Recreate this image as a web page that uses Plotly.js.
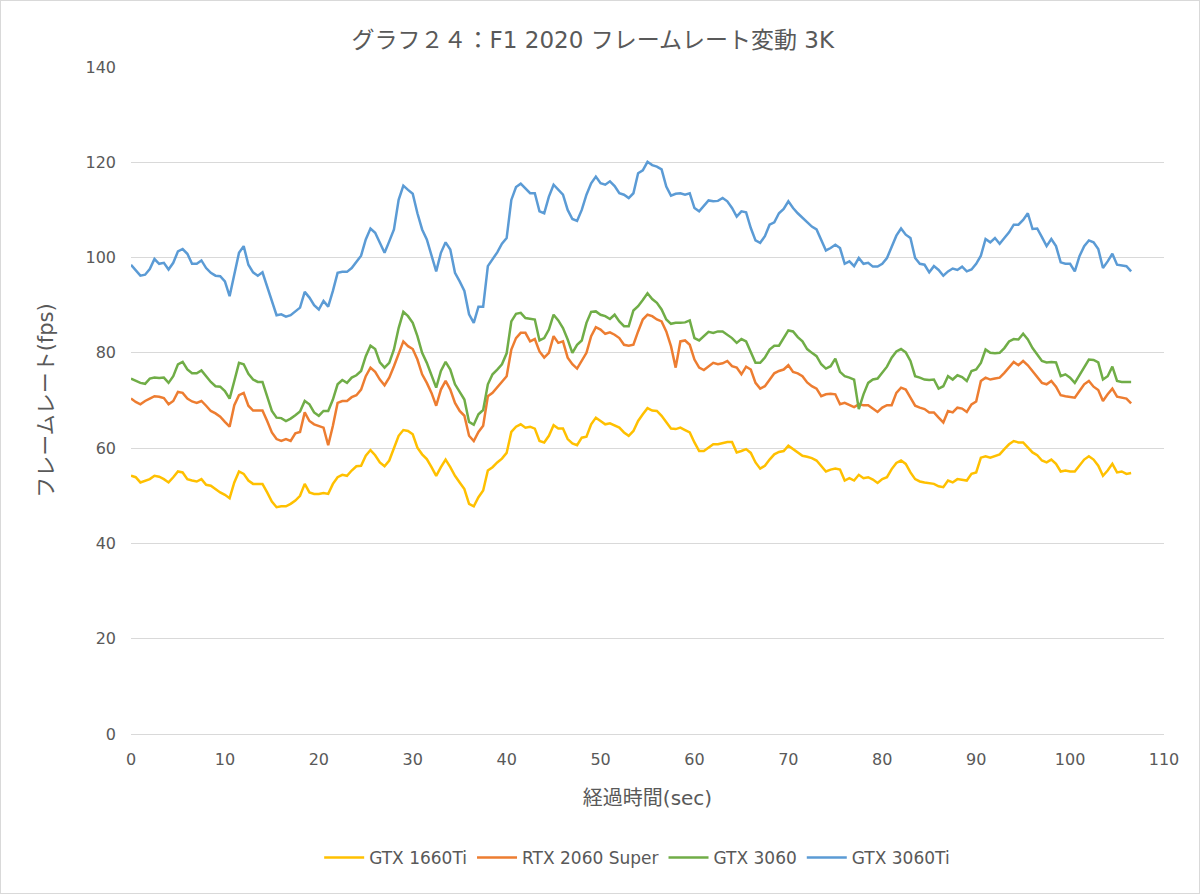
<!DOCTYPE html>
<html>
<head>
<meta charset="utf-8">
<script src="https://cdn.plot.ly/plotly-3.0.1.min.js"></script>
<style>
    body { margin: 0; background: #ffffff; }
    #chart { width: 1200px; height: 894px; }
    #frame { position: absolute; left: 0; top: 0; width: 1198px; height: 892px; border: 1px solid #d9d9d9; pointer-events: none; }
</style>
</head>
<body>
<div id="chart"></div>
<div id="frame"></div>
<script>
// frame rate samples, one every 0.5 sec (0 .. 106.5)
var SAMPLE_STEP = 0.5;

var gtx1660ti = [
    54.2, 53.9, 52.8, 53.2, 53.5, 54.2, 54, 53.5, 52.8, 53.9,
    55.1, 54.9, 53.5, 53.2, 53, 53.5, 52.3, 52.1, 51.4, 50.7,
    50.2, 49.5, 52.8, 55.1, 54.6, 53.2, 52.5, 52.5, 52.5, 50.7,
    48.8, 47.6, 47.8, 47.8, 48.3, 49, 50, 52.5, 50.7, 50.4,
    50.4, 50.6, 50.4, 52.5, 53.9, 54.4, 54.2, 55.3, 56.2, 56.3,
    58.4, 59.6, 58.5, 57, 56.2, 57.4, 60.1, 62.6, 63.8, 63.6,
    62.9, 60.1, 58.7, 57.7, 56, 54.2, 56, 57.6, 56, 54.2,
    52.8, 51.4, 48.3, 47.8, 49.7, 51.1, 55.3, 56, 57, 57.8,
    59, 63.4, 64.5, 65, 64.3, 64.5, 64.1, 61.5, 61.2, 62.6,
    64.8, 64.1, 64.1, 61.9, 61, 60.6, 62.2, 62.4, 65, 66.4,
    65.7, 65, 65.2, 64.8, 64.3, 63.3, 62.6, 63.6, 65.7, 67.1,
    68.4, 67.9, 67.8, 66.8, 65.4, 64.1, 64, 64.3, 63.8, 63.3,
    61.2, 59.4, 59.4, 60.1, 60.8, 60.8, 61, 61.3, 61.3, 59.1,
    59.4, 59.8, 59, 57, 55.7, 56.3, 57.6, 58.7, 59.2, 59.4,
    60.5, 59.8, 59.2, 58.4, 58.2, 57.9, 57.4, 56.3, 55.1, 55.5,
    55.7, 55.5, 53.2, 53.7, 53.2, 54.4, 53.7, 53.9, 53.4, 52.7,
    53.5, 53.9, 55.6, 56.9, 57.4, 56.7, 54.9, 53.5, 53, 52.8,
    52.7, 52.5, 52, 51.8, 53.2, 52.8, 53.5, 53.4, 53.2, 54.6,
    54.9, 58, 58.3, 58, 58.3, 58.7, 59.8, 60.8, 61.5, 61.2,
    61.2, 60.1, 59.1, 58.5, 57.4, 57, 57.6, 56.7, 55.1, 55.3,
    55.1, 55.1, 56.3, 57.6, 58.3, 57.6, 56.3, 54.2, 55.3, 56.7,
    54.9, 55.1, 54.6, 54.8
];

var rtx2060super = [
    70.4, 69.7, 69.2, 69.9, 70.4, 70.9, 70.8, 70.5, 69.2, 69.9,
    71.8, 71.6, 70.4, 69.8, 69.5, 69.9, 68.9, 67.8, 67.3, 66.6,
    65.5, 64.5, 69, 71.1, 71.6, 68.9, 67.9, 67.9, 67.9, 65.7,
    63.3, 61.9, 61.5, 61.9, 61.5, 63.1, 63.4, 67.5, 65.7, 65,
    64.7, 64.3, 60.6, 64.7, 69.5, 69.9, 69.9, 70.7, 71.1, 72.3,
    75.1, 76.9, 76, 74.4, 73.2, 74.8, 77.2, 80, 82.4, 81.4,
    80.8, 78.6, 75.5, 73.7, 71.6, 68.9, 72.3, 74.1, 72.3, 69.5,
    67.8, 66.8, 62.6, 61.5, 63.4, 64.7, 70.9, 71.6, 72.7, 73.9,
    75.1, 80.7, 83.1, 84.2, 84.2, 82.4, 82.9, 80.3, 79, 80,
    83.5, 82.1, 82.4, 79, 77.6, 76.7, 78.3, 80, 83.5, 85.4,
    84.9, 84, 84.3, 83.8, 83.1, 81.7, 81.5, 81.7, 84.5, 87,
    88, 87.7, 87, 86.6, 84.5, 81.4, 76.9, 82.4, 82.6, 81.7,
    78.6, 76.9, 76.4, 77.2, 77.9, 77.6, 77.8, 78.3, 77.2, 76.9,
    75.5, 77.1, 76.5, 73.7, 72.5, 73, 74.4, 75.7, 76.2, 76.5,
    77.4, 76, 75.7, 75.1, 73.8, 73, 72.5, 70.9, 71.3, 71.4,
    71.3, 69.2, 69.5, 69, 68.6, 69.2, 69, 69, 68.3, 67.6,
    68.5, 69, 69, 71.6, 72.7, 72.3, 70.6, 68.9, 68.5, 68.2,
    67.5, 67.5, 66.4, 65.4, 67.8, 67.5, 68.5, 68.3, 67.6, 69.2,
    69.8, 74.1, 74.8, 74.4, 74.6, 74.8, 75.8, 76.9, 78.1, 77.4,
    78.3, 77.4, 76.2, 75.1, 73.7, 73.4, 74.1, 72.9, 71.1, 70.9,
    70.8, 70.6, 72, 73.4, 74.1, 72.9, 72.2, 69.9, 71.3, 72.5,
    70.8, 70.6, 70.4, 69.4
];

var gtx3060 = [
    74.6, 74.1, 73.7, 73.5, 74.6, 74.8, 74.7, 74.8, 73.7, 75.1,
    77.6, 78.1, 76.5, 75.7, 75.7, 76.3, 75.1, 73.9, 73, 72.9,
    72, 70.4, 74.1, 77.9, 77.6, 75.6, 74.4, 73.9, 73.9, 70.9,
    67.8, 66.4, 66.3, 65.7, 66.2, 66.9, 67.7, 69.9, 69.2, 67.5,
    66.8, 67.8, 67.8, 70.2, 73.4, 74.3, 73.7, 74.8, 75.3, 76.2,
    79.3, 81.5, 80.8, 78, 76.9, 77.9, 80.7, 85.2, 88.6, 87.7,
    86.3, 83.5, 80, 77.9, 75.5, 72.7, 76.2, 78.1, 76.5, 73.4,
    71.8, 70.2, 65.5, 64.9, 67.1, 68, 73.4, 75.5, 76.5, 77.6,
    79.9, 86.6, 88.2, 88.4, 87.3, 87.1, 87, 82.6, 83.1, 84.9,
    88, 86.8, 85.2, 82.8, 80, 81.7, 82.6, 86.3, 88.6, 88.7,
    88, 87.7, 87.1, 88, 86.6, 85.6, 85.6, 88.9, 89.8, 91.1,
    92.5, 91.3, 90.5, 89.1, 87, 86.1, 86.3, 86.3, 86.4, 86.8,
    83.1, 82.6, 83.5, 84.4, 84.2, 84.5, 84.5, 83.8, 83.1, 82.1,
    82.9, 82.4, 80, 77.9, 77.9, 79, 80.7, 81.5, 81.5, 83.1,
    84.7, 84.5, 83.3, 82.4, 80.8, 80, 79.3, 77.6, 76.7, 77.2,
    78.8, 76, 75.1, 74.8, 74.4, 68.2, 71.3, 73.7, 74.4, 74.6,
    75.8, 77.1, 79, 80.3, 80.8, 80.1, 78.3, 75.1, 74.8, 74.4,
    74.3, 74.4, 72.5, 73, 75.1, 74.4, 75.3, 74.9, 74.1, 76.2,
    76.5, 77.9, 80.7, 80, 79.9, 80, 81, 82.4, 82.9, 82.8,
    84, 82.8, 81, 79.7, 78.3, 78, 78.1, 78, 75.1, 75.5,
    74.8, 73.7, 75.3, 76.9, 78.6, 78.5, 78, 74.4, 75.1, 77.1,
    74.1, 73.9, 73.9, 73.9
];

var gtx3060ti = [
    98.5, 97.3, 96.2, 96.4, 97.6, 99.7, 98.7, 98.9, 97.5, 98.9,
    101.3, 101.8, 100.8, 98.7, 98.7, 99.4, 97.8, 96.8, 96.2, 96.1,
    95, 91.9, 96.8, 101, 102.4, 98.5, 96.9, 96.2, 96.9, 94,
    90.8, 87.9, 88.1, 87.6, 87.9, 88.8, 89.5, 92.8, 91.6, 90,
    89.1, 90.9, 89.7, 93, 96.8, 97, 97, 97.8, 99, 100.4,
    103.8, 106.1, 105.2, 103.1, 101, 103.4, 105.9, 112.1, 115.1, 114.2,
    113.4, 109.3, 105.9, 103.8, 100.3, 97.1, 101, 103.2, 101.7, 96.8,
    95, 93, 88.1, 86.3, 89.7, 89.7, 98.2, 99.6, 101.1, 102.9,
    104.1, 112.1, 114.8, 115.5, 114.6, 113.5, 113.5, 109.7, 109.3, 112.8,
    115.3, 114.2, 113.2, 110, 108.1, 107.7, 110, 113.2, 115.6, 117,
    115.6, 115.3, 116, 115, 113.5, 113.2, 112.5, 113.5, 117.7, 118.3,
    120.1, 119.4, 119.1, 118.5, 114.9, 113, 113.4, 113.5, 113.2, 113.5,
    110.4, 109.7, 110.9, 112, 111.8, 111.9, 112.5, 111.8, 110.4, 108.6,
    109.7, 109.5, 106.2, 103.6, 103.1, 104.5, 106.9, 107.4, 109.3, 110.2,
    111.8, 110.4, 109.3, 108.3, 107.5, 106.5, 105.9, 103.8, 101.5, 102,
    102.7, 102, 98.7, 99.2, 98.2, 99.9, 98.7, 98.9, 98.1, 98.1,
    98.7, 99.9, 102.4, 104.6, 106.1, 104.8, 104.1, 99.9, 98.7, 98.5,
    96.9, 98.2, 97.4, 96.2, 97.1, 97.7, 97.4, 98.1, 97.1, 97.5,
    98.7, 100.4, 103.9, 103.2, 104.1, 102.9, 104.1, 105.3, 106.9, 106.9,
    107.9, 109.3, 106, 106.1, 104.3, 102.4, 103.9, 102.4, 99, 98.7,
    98.7, 97.1, 100.3, 102.4, 103.6, 103.2, 101.8, 97.8, 99.2, 100.8,
    98.5, 98.3, 98.2, 97.1
];

var seriesNames = ['GTX 1660Ti', 'RTX 2060 Super', 'GTX 3060', 'GTX 3060Ti'];
var seriesValues = [gtx1660ti, rtx2060super, gtx3060, gtx3060ti];
var seriesColours = ['#ffc000', '#ed7d31', '#70ad47', '#5b9bd5'];

// latin glyphs from DejaVu (wide, like the original), kana/kanji fall back to Noto CJK
var FONT = '"DejaVu Sans", "Noto Sans CJK JP", sans-serif';
var TEXT_COLOUR = '#595959';
var GRID_COLOUR = '#d9d9d9';

// elapsed time axis
var seconds = [];
for (var i = 0; i < gtx1660ti.length; i++) {
    seconds.push(i * SAMPLE_STEP);
}

var traceList = [];
for (var s = 0; s < seriesNames.length; s++) {
    traceList.push({
        x: seconds,
        y: seriesValues[s],
        name: seriesNames[s],
        type: 'scatter',
        mode: 'lines',
        line: {
            color: seriesColours[s],
            width: 2.5
        }
    });
}

var layout = {
    width: 1200,
    height: 894,
    paper_bgcolor: '#ffffff',
    plot_bgcolor: '#ffffff',
    margin: {l: 131, r: 36, t: 67, b: 160},
    font: {family: FONT, color: TEXT_COLOUR, size: 16},
    title: {
        text: 'グラフ２４：F1 2020 フレームレート変動 3K',
        font: {family: FONT, size: 23, color: TEXT_COLOUR},
        x: 0.494,
        xanchor: 'center',
        y: 0.955,
        yanchor: 'middle'
    },
    xaxis: {
        range: [0, 110],
        dtick: 10,
        tick0: 0,
        showgrid: false,
        zeroline: false,
        showline: true,
        linecolor: GRID_COLOUR,
        linewidth: 1,
        ticks: '',
        ticklabelstandoff: 11,
        tickfont: {size: 16, color: TEXT_COLOUR},
        title: {
            text: '経過時間(sec)',
            font: {size: 20, color: TEXT_COLOUR},
            standoff: 22
        }
    },
    yaxis: {
        range: [0, 140],
        dtick: 20,
        tick0: 0,
        showgrid: true,
        gridcolor: GRID_COLOUR,
        gridwidth: 1,
        zeroline: false,
        showline: false,
        ticks: '',
        ticklabelstandoff: 14,
        tickfont: {size: 16, color: TEXT_COLOUR},
        title: {
            text: 'フレームレート(fps)',
            font: {size: 21, color: TEXT_COLOUR},
            standoff: 26
        }
    },
    showlegend: true,
    legend: {
        orientation: 'h',
        x: 0.49,
        xanchor: 'center',
        y: -0.186,
        yanchor: 'middle',
        font: {size: 17, color: TEXT_COLOUR},
        itemwidth: 40,
        traceorder: 'normal'
    },
    hovermode: 'closest'
};

var configuration = {displayModeBar: false, staticPlot: true};

Plotly.newPlot('chart', traceList, layout, configuration);
</script>
</body>
</html>
